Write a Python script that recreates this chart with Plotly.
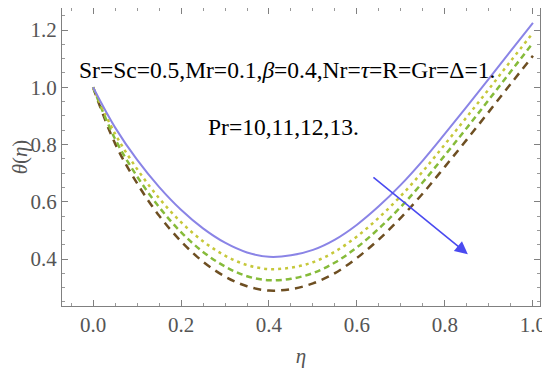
import plotly.graph_objects as go

eta = [0, 0.05, 0.1, 0.15, 0.2, 0.25, 0.3, 0.35, 0.4, 0.45, 0.5, 0.55, 0.6, 0.65, 0.7, 0.75, 0.8, 0.85, 0.9, 0.95, 1.0]
pr10 = [1.0, 0.86, 0.747, 0.652, 0.572, 0.507, 0.457, 0.423, 0.408, 0.413, 0.432, 0.468, 0.52, 0.585, 0.66, 0.745, 0.838, 0.933, 1.03, 1.128, 1.225]
pr11 = [1.0, 0.838, 0.715, 0.613, 0.529, 0.462, 0.412, 0.379, 0.365, 0.370, 0.389, 0.426, 0.479, 0.545, 0.621, 0.707, 0.801, 0.897, 0.994, 1.093, 1.19]
pr12 = [1.0, 0.82, 0.689, 0.582, 0.494, 0.425, 0.374, 0.34, 0.326, 0.331, 0.351, 0.388, 0.441, 0.507, 0.583, 0.669, 0.763, 0.859, 0.957, 1.056, 1.155]
pr13 = [1.0, 0.804, 0.665, 0.552, 0.462, 0.391, 0.339, 0.305, 0.29, 0.295, 0.315, 0.351, 0.404, 0.469, 0.545, 0.63, 0.723, 0.818, 0.915, 1.013, 1.11]

x_ticks = [0, 0.2, 0.4, 0.6, 0.8, 1.0]
x_labels = ["0.0", "0.2", "0.4", "0.6", "0.8", "1.0"]
y_ticks = [0.4, 0.6, 0.8, 1.0, 1.2]
y_labels = ["0.4", "0.6", "0.8", "1.0", "1.2"]

series = [
    ("Pr=10", pr10, "#8a84e6", "solid", 2),
    ("Pr=11", pr11, "#c6c83a", "3px,4px", 2.5),
    ("Pr=12", pr12, "#86bb3a", "6px,4px", 2.5),
    ("Pr=13", pr13, "#6e4f22", "8px,6px", 2.5),
]

fig = go.Figure()
for name, ys, col, dash, w in reversed(series):
    fig.add_trace(go.Scatter(x=eta, y=ys, mode="lines", name=name,
                             line=dict(color=col, dash=dash, width=w, shape="spline", smoothing=1.0)))

fig.add_annotation(x=0.852, y=0.417, ax=0.634, ay=0.69, xref="x", yref="y",
                   axref="x", ayref="y", showarrow=True, arrowhead=2, arrowsize=1.6,
                   arrowwidth=1.6, arrowcolor="#4a4af0", text="")

fig.add_annotation(x=0.44, y=1.062, xref="x", yref="y", showarrow=False,
                   text="Sr=Sc=0.5,Mr=0.1,<i>β</i>=0.4,Nr=<i>τ</i>=R=Gr=Δ=1.",
                   font=dict(family="Liberation Serif", size=23.5, color="black"))
fig.add_annotation(x=0.434, y=0.86, xref="x", yref="y", showarrow=False,
                   text="Pr=10,11,12,13.",
                   font=dict(family="Liberation Serif", size=23.5, color="black"))

axis_common = dict(showgrid=False, zeroline=False, showline=True, linecolor="#808080",
                   linewidth=1, mirror="ticks", ticks="inside", ticklen=6, tickcolor="#808080",
                   ticklabeloverflow="allow", automargin=False,
                   tickfont=dict(family="Liberation Serif", size=21, color="#555555"))

fig.update_xaxes(range=[-0.0705, 1.016], tickvals=x_ticks, ticktext=x_labels,
                 minor=dict(dtick=0.05, tick0=0, ticks="inside", ticklen=3, tickcolor="#999999"),
                 title=dict(text="<i>η</i>", font=dict(family="Liberation Serif", size=21, color="#555555"), standoff=12),
                 **axis_common)
fig.update_yaxes(range=[0.236, 1.277], tickvals=y_ticks, ticktext=y_labels,
                 minor=dict(dtick=0.05, tick0=0, ticks="inside", ticklen=3, tickcolor="#999999"),
                 title=dict(text="<i>θ</i>(<i>η</i>)", font=dict(family="Liberation Serif", size=21, color="#555555"), standoff=4),
                 **axis_common)

# the page body adds an 8px offset, so the figure is 8px smaller and margins adjusted
fig.update_layout(width=542, height=361, margin=dict(l=54, r=10, t=0, b=63),
                  paper_bgcolor="white", plot_bgcolor="white", showlegend=False)

fig.write_html("out.html")
